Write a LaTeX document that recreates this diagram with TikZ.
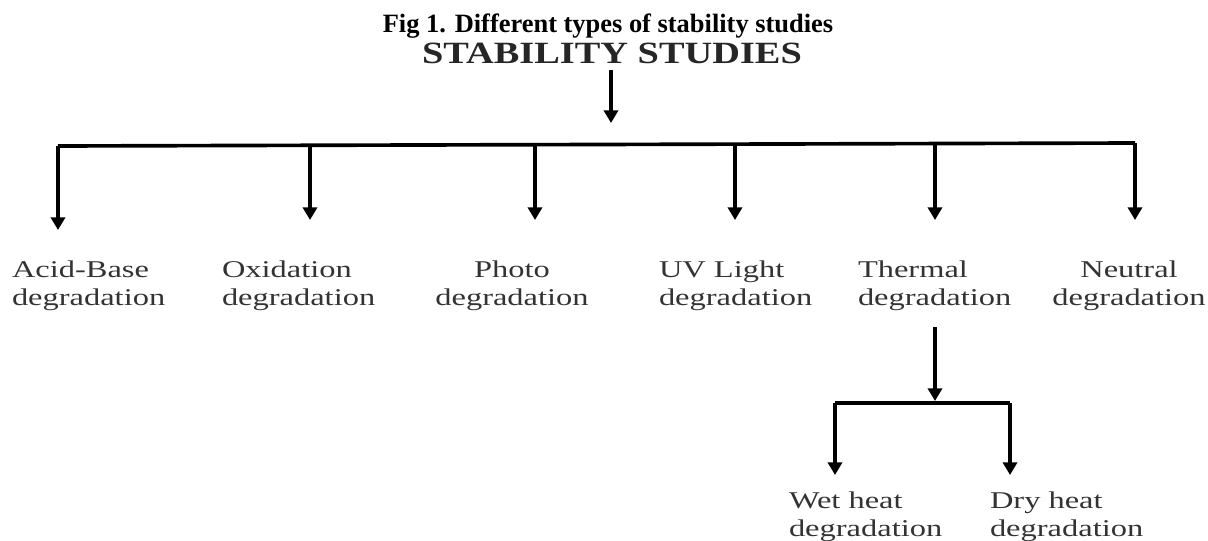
\documentclass[tikz,border=0pt]{standalone}
\usepackage{fontspec}
\setmainfont{Liberation Serif}
\newfontfamily\widefont[FakeStretch=1.35]{Liberation Serif}
\newfontfamily\headfont[FakeStretch=1.24]{Liberation Serif}
\usetikzlibrary{arrows.meta}

\begin{document}
\begin{tikzpicture}[x=0.025cm, y=-0.025cm,
  every node/.style={inner sep=0pt, outer sep=0pt},
  lbl/.style={font=\widefont\fontsize{17.1}{19.9}\selectfont, text=black!80},
  feed/.style={line width=2.4pt, -{Triangle[length=9pt,width=10pt]}},
  bar/.style={line width=2.6pt}]
\useasboundingbox (0,0) rectangle (1208,540);

\node[anchor=base, font=\bfseries\fontsize{18.8}{22}\selectfont] (fig) at (608,32) {Fig 1. Different types of stability studies};
\node[anchor=base, font=\headfont\bfseries\fontsize{22}{26}\selectfont, text=black!85] (studies) at (612,63) {STABILITY STUDIES};

\node[lbl, anchor=north west, align=left] (acid) at (12,261) {Acid-Base\\degradation};
\node[lbl, anchor=north west, align=left] (oxid) at (222,261) {Oxidation\\degradation};
\node[lbl, anchor=north, align=center] (photo) at (512,261) {Photo\\degradation};
\node[lbl, anchor=north west, align=left] (uv) at (659,261) {UV Light\\degradation};
\node[lbl, anchor=north west, align=left] (thermal) at (858,261) {Thermal\\degradation};
\node[lbl, anchor=north, align=center] (neutral) at (1129,261) {Neutral\\degradation};
\node[lbl, anchor=north west, align=left] (wet) at (789,492) {Wet heat\\degradation};
\node[lbl, anchor=north west, align=left] (dry) at (990,492) {Dry heat\\degradation};

\coordinate (hub) at (611,123);
\coordinate (b1) at (58,146);
\coordinate (b2) at (310,145);
\coordinate (b3) at (535,145);
\coordinate (b4) at (735,144);
\coordinate (b5) at (935,144);
\coordinate (b6) at (1135,143);
\coordinate (t1) at (58,230);
\coordinate (t2) at (310,220);
\coordinate (t3) at (535,220);
\coordinate (t4) at (735,220);
\coordinate (t5) at (935,220);
\coordinate (t6) at (1135,220);

\coordinate (s0) at (935,327);
\coordinate (s1) at (935,401);
\coordinate (w0) at (835,403);
\coordinate (d0) at (1010,403);
\coordinate (w1) at (835,475);
\coordinate (d1) at (1010,475);

\draw[feed, shorten <=5pt] (studies.south -| hub) -- (hub);
\draw[bar] (b1) -- (b6);
\draw[feed] (b1) -- (t1);
\draw[feed] (b2) -- (t2);
\draw[feed] (b3) -- (t3);
\draw[feed] (b4) -- (t4);
\draw[feed] (b5) -- (t5);
\draw[feed] (b6) -- (t6);

\draw[feed] (s0) -- (s1);
\draw[bar] (w0) -- (d0);
\draw[feed] (w0) -- (w1);
\draw[feed] (d0) -- (d1);
\end{tikzpicture}
\end{document}
